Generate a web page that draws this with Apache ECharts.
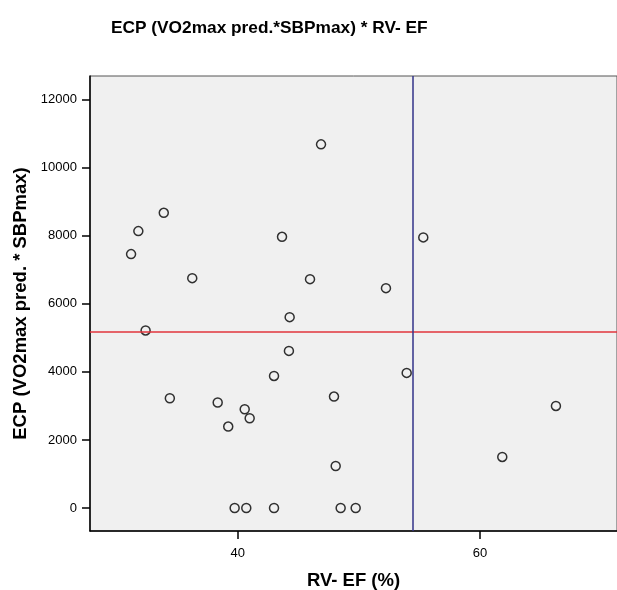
<!DOCTYPE html>
<html><head><meta charset="utf-8">
<script src="https://cdn.jsdelivr.net/npm/echarts@6/dist/echarts.min.js"></script>
<style>html,body{margin:0;padding:0;background:#fff}#c{width:617px;height:590px}</style>
</head><body><div id="c"></div>
<script>
const rvEF = [31.2, 31.8, 33.9, 32.4, 36.25, 43.66, 44.29, 44.23, 43.0, 34.4, 38.35, 40.58, 40.99, 39.22, 39.75, 40.71, 43.0, 53.95, 47.95, 48.09, 48.5, 49.74, 46.88, 45.97, 52.24, 55.32, 66.27, 61.84];
const ecp  = [7462, 8138, 8676, 5218, 6756, 7971, 5609, 4618, 3882, 3226, 3100, 2903, 2638, 2394, 0, 0, 0, 3971, 3276, 1235, 0, 0, 10688, 6726, 6462, 7953, 3000, 1500];
const xTicks = [40, 60];
const yTicks = [0, 2000, 4000, 6000, 8000, 10000, 12000];
const refY = 5176;
const refX = 54.46;
const points = rvEF.map((x, i) => [x, ecp[i]]);

const chart = echarts.init(document.getElementById('c'), null, {renderer: 'canvas'});
const font = 'Liberation Sans, Arial, sans-serif';
chart.setOption({
  animation: false,
  title: {
    text: 'ECP (VO2max pred.*SBPmax) * RV- EF',
    left: 106, top: 15,
    textStyle: {fontFamily: font, fontSize: 17.3, fontWeight: 'bold', color: '#000'}
  },
  grid: {left: 90, top: 76, right: 0, bottom: 59, containLabel: false, outerBoundsMode: 'none', show: true, backgroundColor: '#f0f0f0', borderColor: '#555', borderWidth: 1},
  xAxis: {
    type: 'value', min: 27.81, max: 71.31,
    name: 'RV- EF (%)', nameLocation: 'middle', nameGap: 40,
    nameTextStyle: {fontFamily: font, fontSize: 18.5, fontWeight: 'bold', color: '#000'},
    axisLine: {show: true, onZero: false, lineStyle: {color: '#000', width: 1.5}},
    axisTick: {show: true, length: 8, customValues: xTicks, lineStyle: {color: '#000', width: 1.5}},
    axisLabel: {customValues: xTicks, formatter: v => String(v), fontFamily: font, fontSize: 13, color: '#000', margin: 16},
    splitLine: {show: false}
  },
  yAxis: {
    type: 'value', min: -676, max: 12697,
    name: 'ECP (VO2max pred. * SBPmax)', nameLocation: 'middle', nameGap: 57,
    nameTextStyle: {fontFamily: font, fontSize: 18.5, fontWeight: 'bold', color: '#000'},
    axisLine: {show: true, onZero: false, lineStyle: {color: '#000', width: 1.5}},
    axisTick: {show: true, length: 8, customValues: yTicks, lineStyle: {color: '#000', width: 1.5}},
    axisLabel: {customValues: yTicks, formatter: v => String(v), fontFamily: font, fontSize: 13, color: '#000', margin: 13},
    splitLine: {show: false}
  },
  series: [{
    type: 'scatter',
    data: points,
    symbol: 'circle', symbolSize: 9,
    itemStyle: {color: 'rgba(0,0,0,0)', borderColor: '#000', borderWidth: 1.5},
    z: 3
  }, {
    type: 'line', data: [], z: 2,
    markLine: {
      silent: true, symbol: 'none', label: {show: false},
      lineStyle: {color: '#e2343c', width: 1.5, type: 'solid'},
      data: [{yAxis: refY}]
    }
  }, {
    type: 'line', data: [], z: 2,
    markLine: {
      silent: true, symbol: 'none', label: {show: false},
      lineStyle: {color: '#33338a', width: 1.5, type: 'solid'},
      data: [{xAxis: refX}]
    }
  }]
});
</script></body></html>
